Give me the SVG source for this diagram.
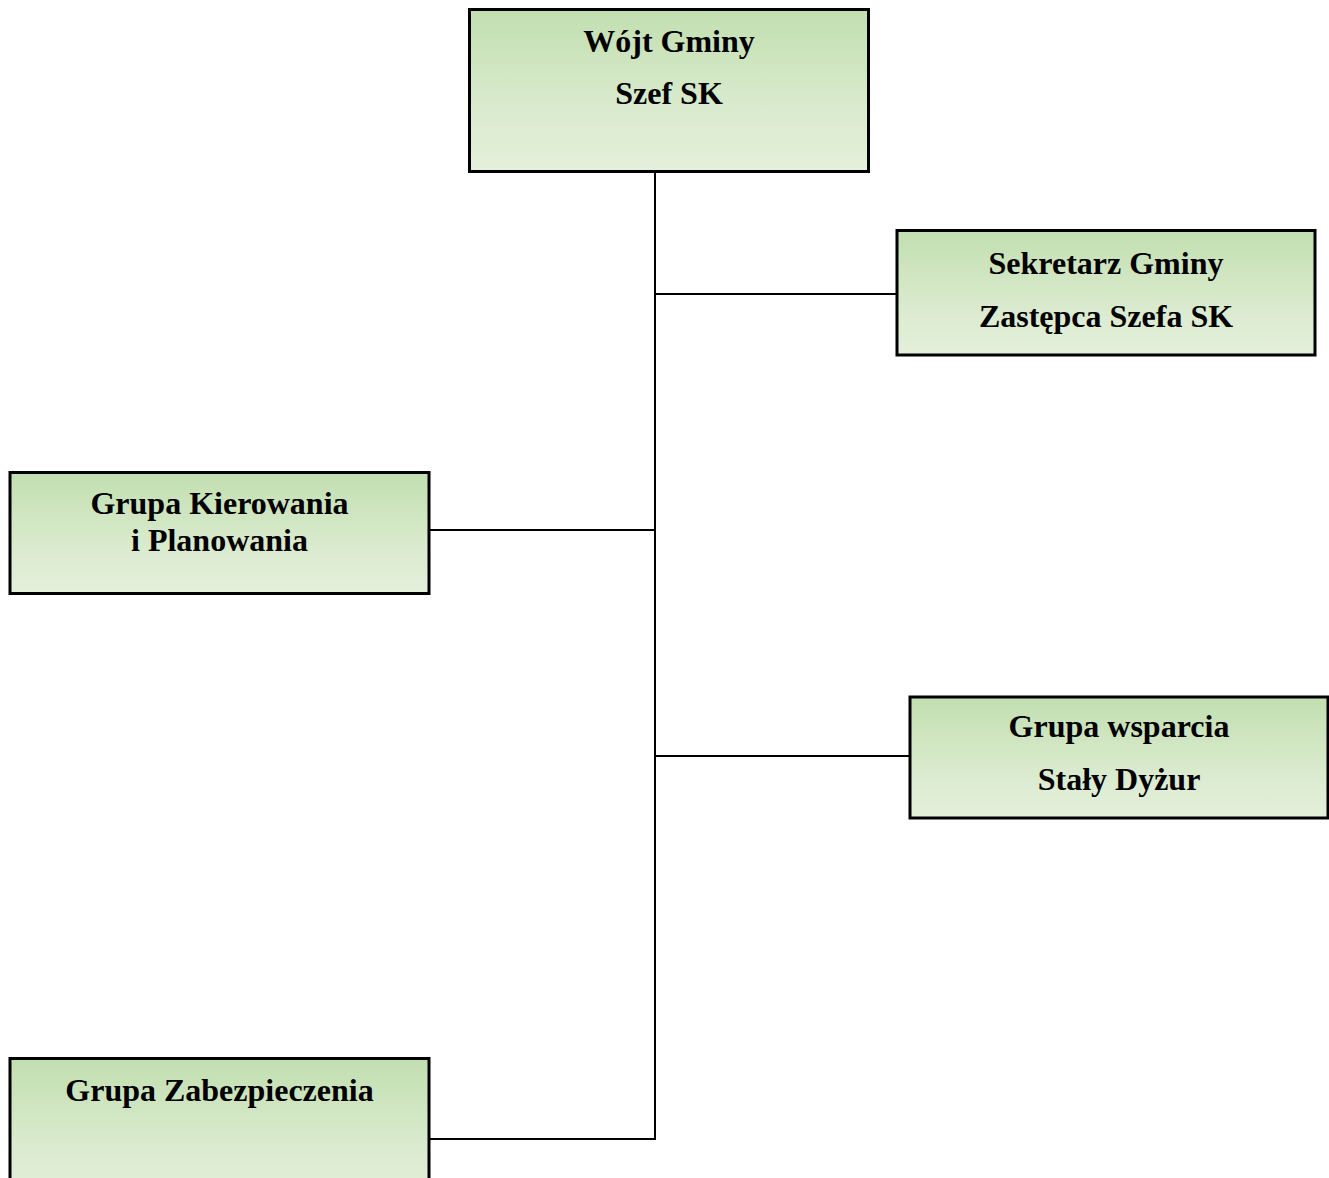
<svg xmlns="http://www.w3.org/2000/svg" width="1329" height="1178" viewBox="0 0 1329 1178">
<defs>
<linearGradient id="g" x1="0" y1="0" x2="0" y2="1">
<stop offset="0" stop-color="#c2dfb0"/>
<stop offset="0.6" stop-color="#d9eacd"/>
<stop offset="1" stop-color="#e5f0dc"/>
</linearGradient>
</defs>
<style>
.box{fill:url(#g);stroke:#000;stroke-width:3}
.t{font-family:"Liberation Serif","Times New Roman",serif;font-weight:bold;font-size:32px;fill:#000;text-anchor:middle}
.c{stroke:#000;stroke-width:2;fill:none}
</style>
<rect width="1329" height="1178" fill="#fff"/>
<g id="connectors">
<line class="c" x1="655" y1="172" x2="655" y2="1140"/>
<line class="c" x1="655" y1="294" x2="897" y2="294"/>
<line class="c" x1="429" y1="530" x2="655" y2="530"/>
<line class="c" x1="655" y1="756" x2="910" y2="756"/>
<line class="c" x1="429" y1="1139" x2="655" y2="1139"/>
</g>
<g id="wojt">
<rect class="box" x="469.5" y="9.5" width="399" height="162"/>
<text class="t" x="669" y="52">Wójt Gminy</text>
<text class="t" x="669" y="104">Szef SK</text>
</g>
<g id="sekretarz">
<rect class="box" x="897" y="230.5" width="418" height="124.5"/>
<text class="t" x="1106" y="274">Sekretarz Gminy</text>
<text class="t" x="1106" y="327">Zastępca Szefa SK</text>
</g>
<g id="kierowania">
<rect class="box" x="10" y="472.5" width="419" height="121"/>
<text class="t" x="219.5" y="514">Grupa Kierowania</text>
<text class="t" x="219.5" y="551">i Planowania</text>
</g>
<g id="wsparcia">
<rect class="box" x="910" y="697" width="418" height="121"/>
<text class="t" x="1119" y="737">Grupa wsparcia</text>
<text class="t" x="1119" y="790">Stały Dyżur</text>
</g>
<g id="zabezpieczenia">
<rect class="box" x="10" y="1058.5" width="419" height="140"/>
<text class="t" x="219.5" y="1101">Grupa Zabezpieczenia</text>
</g>
</svg>
